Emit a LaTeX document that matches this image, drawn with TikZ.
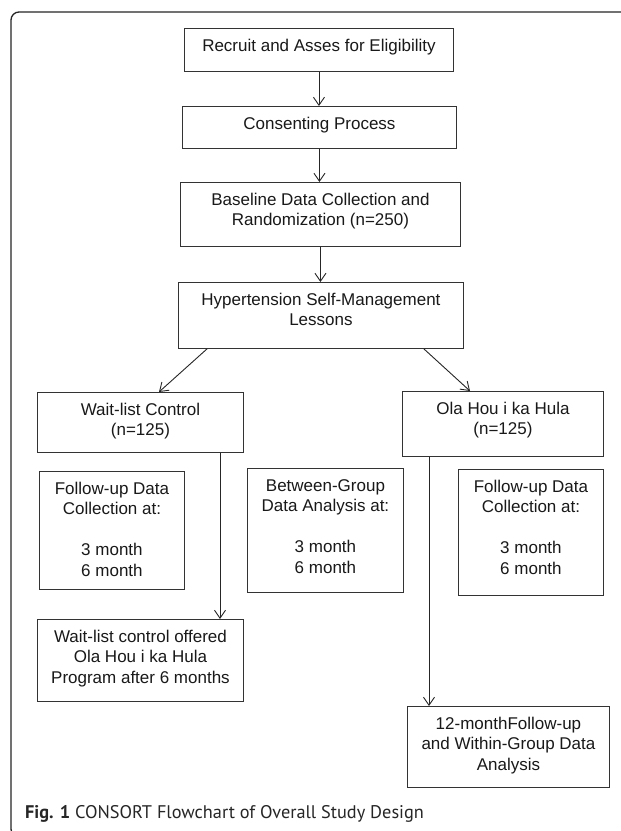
\documentclass[tikz,border=0pt]{standalone}
\usepackage{fontspec}
\setmainfont{Liberation Sans}
\newfontfamily\capfont{PT Sans}
\usetikzlibrary{arrows.meta,calc}
\newcommand\boxtext[3]{\parbox[t][#2][t]{#1}{\centering\rule{0pt}{23pt}#3}}
\begin{document}
\begin{tikzpicture}[x=1pt,y=-1pt,
  boxst/.style={draw=black!80, line width=0.9pt, inner sep=0pt, anchor=north west,
    font=\fontsize{17}{20.5}\selectfont, text=black!90},
  arr/.style={draw=black!85, line width=0.9pt, -{Straight Barb[length=8pt,width=11pt]}},
  frameline/.style={draw=black!85, line width=1.3pt, rounded corners=8pt}]
\clip (0,0) rectangle (621,831);
\fill[white] (0,0) rectangle (621,831);
\draw[frameline] (660,12) -- (11,12) -- (11,837) -- (60,837);

\node[boxst] (recruit) at (184,28) {\boxtext{269pt}{43pt}{Recruit and Asses for Eligibility}};
\node[boxst] (consent) at (182,106) {\boxtext{274pt}{42pt}{Consenting Process}};
\node[boxst] (baseline) at (180,182) {\boxtext{280pt}{64pt}{Baseline Data Collection and\\Randomization (n=250)}};
\node[boxst] (hyper) at (178,282) {\boxtext{285pt}{66pt}{Hypertension Self-Management\\Lessons}};
\node[boxst] (wlc) at (37,392) {\boxtext{206pt}{60pt}{Wait-list Control\\(n=125)}};
\node[boxst] (ola) at (402,391) {\boxtext{201pt}{65pt}{Ola Hou i ka Hula\\(n=125)}};
\node[boxst] (fuL) at (39,471) {\boxtext{145pt}{118pt}{Follow-up Data\\Collection at:\\[20.5pt]3 month\\6 month}};
\node[boxst] (between) at (247,468) {\boxtext{156pt}{124pt}{Between-Group\\Data Analysis at:\\[20.5pt]3 month\\6 month}};
\node[boxst] (fuR) at (458,469) {\boxtext{145pt}{126pt}{Follow-up Data\\Collection at:\\[20.5pt]3 month\\6 month}};
\node[boxst] (offered) at (37,619) {\boxtext{206pt}{82pt}{Wait-list control offered\\Ola Hou i ka Hula\\Program after 6 months}};
\node[boxst] (twelve) at (407,706) {\boxtext{202pt}{81pt}{12-monthFollow-up\\and Within-Group Data\\Analysis}};

\draw[arr] (recruit.south) -- (recruit.south |- consent.north);
\draw[arr] (consent.south) -- (consent.south |- baseline.north);
\draw[arr] (baseline.south) -- (baseline.south |- hyper.north);
\draw[arr] ([xshift=29pt]hyper.south west) -- ([xshift=122pt]wlc.north west);
\draw[arr] ([xshift=-40pt]hyper.south east) -- ([xshift=68pt]ola.north west);
\coordinate (wlcdown) at ([xshift=183pt]wlc.south west);
\draw[arr] (wlcdown) -- (wlcdown |- offered.north);
\coordinate (oladown) at ([xshift=27pt]ola.south west);
\draw[arr] (oladown) -- (oladown |- twelve.north);

\node[anchor=base west, inner sep=0pt, font=\capfont\fontsize{18.3}{20}\selectfont, text=black!85] (cap) at (25,818)
  {\textbf{Fig. 1} CONSORT Flowchart of Overall Study Design};
\end{tikzpicture}
\end{document}
